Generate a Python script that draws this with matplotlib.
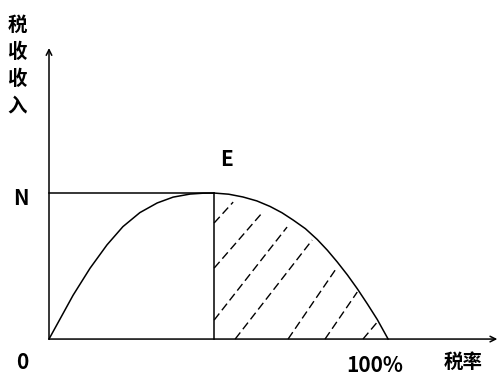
import matplotlib
matplotlib.use('Agg')
import matplotlib.pyplot as plt

plt.rcParams['font.family'] = ['Noto Sans CJK SC', 'DejaVu Sans']

# Laffer curve: tax rate (%) vs revenue (N = 100)
rate = [0, 3.2, 7.1, 12.1, 17.1, 21.8, 26.8, 31.9, 36.6, 41.6, 45.5, 48.7,
        53.0, 57.2, 61.3, 65.2, 68.7, 72.0, 75.6, 79.1, 82.1, 85.0, 88.0,
        90.9, 93.9, 96.8, 100]
revenue = [0, 13.5, 30.0, 48.5, 64.5, 77.0, 86.6, 93.2, 97.2, 99.3, 99.9, 100,
           99.2, 97.3, 94.6, 90.8, 86.5, 81.5, 75.6, 68.2, 60.8, 52.8, 43.9,
           34.5, 24.0, 13.4, 0]

peak_rate = 48.7
N = 100

# dashed hatch strokes in the shaded area (start / end)
hatch_x0 = [48.7, 48.7, 48.7, 54.9, 70.5, 81.4, 92.6]
hatch_y0 = [79.5, 48.6, 13.0, 0, 0, 0, 0]
hatch_x1 = [54.3, 62.8, 70.2, 77.6, 85.0, 90.9, 96.8]
hatch_y1 = [93.8, 86.3, 76.7, 67.8, 49.3, 32.2, 11.6]

fig = plt.figure(figsize=(4.99, 3.76), dpi=100)
ax = fig.add_axes([0, 0, 1, 1])
ax.set_xlim(-14.45, 132.7)
ax.set_ylim(-25.3, 232.2)
ax.axis('off')

lw = 1.1
arrow = dict(arrowstyle='->', color='black', lw=lw, mutation_scale=10,
             shrinkA=0, shrinkB=0)
ax.annotate('', xy=(0, 199.3), xytext=(0, 0), arrowprops=arrow)
ax.annotate('', xy=(132.2, 0), xytext=(0, 0), arrowprops=arrow)

ax.plot(rate, revenue, color='black', lw=lw, solid_joinstyle='round')
ax.plot([0, peak_rate], [N, N], color='black', lw=lw)
ax.plot([peak_rate, peak_rate], [0, N], color='black', lw=lw)

for x0, y0, x1, y1 in zip(hatch_x0, hatch_y0, hatch_x1, hatch_y1):
    ax.plot([x0, x1], [y0, y1], color='black', lw=1.0, linestyle=(0, (6, 3)))

fs = 15
bold = dict(fontweight='bold', ha='center', va='center')
ax.text(-8.4, 96.5, 'N', fontsize=fs, **bold)
ax.text(52.2, 123, 'E', fontsize=fs, **bold)
ax.text(-7.9, -15.8, '0', fontsize=fs, **bold)
ax.text(96.1, -17.8, '100%', fontsize=fs, **bold)
ax.text(122.1, -15.8, '税率', fontsize=fs - 1, **bold)
ax.text(-9.4, 187.5, '税\n收\n收\n入', fontsize=fs - 1, linespacing=1.5, **bold)

fig.savefig('out.png', dpi=100)
